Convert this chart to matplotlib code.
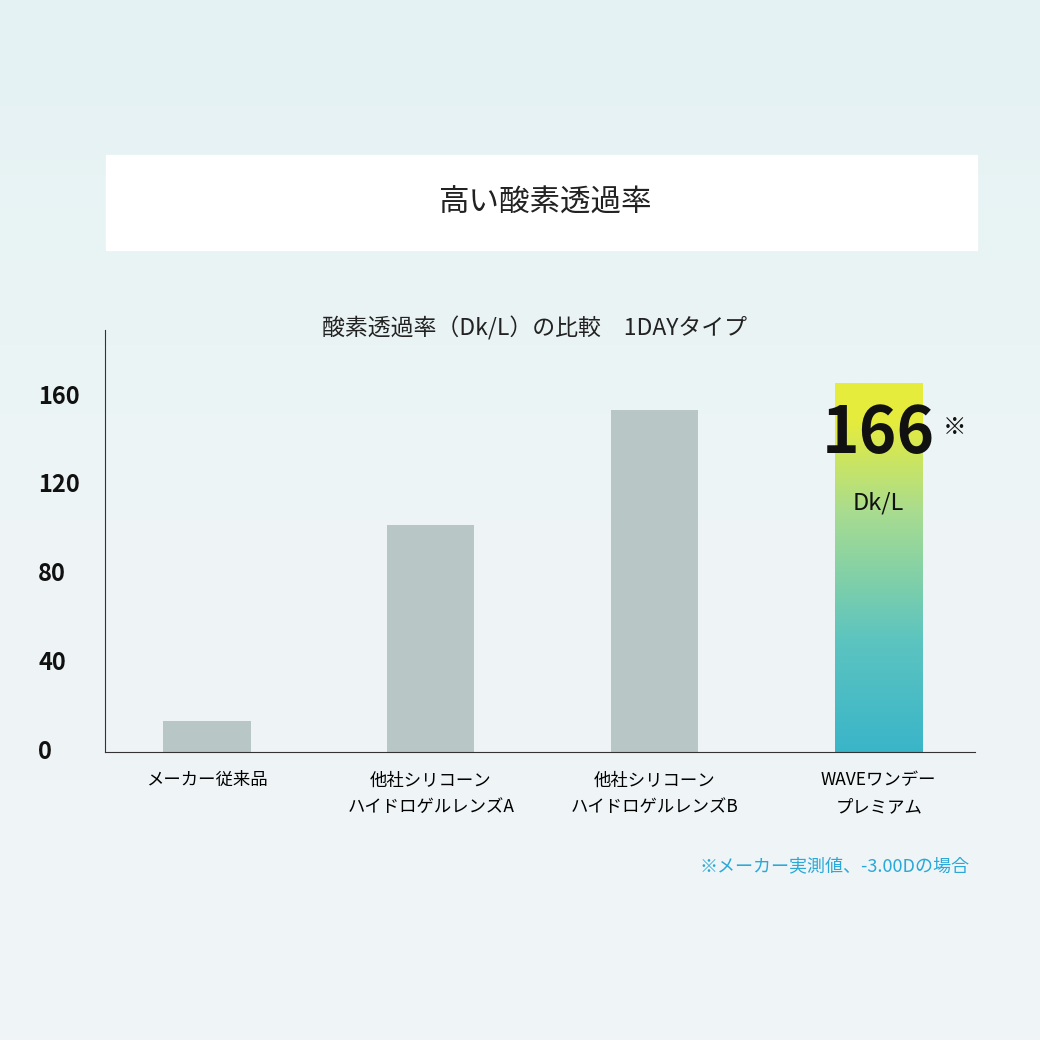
import matplotlib
matplotlib.use("Agg")
import matplotlib.pyplot as plt
import numpy as np
from matplotlib.colors import LinearSegmentedColormap
from matplotlib.patches import Rectangle
import matplotlib.transforms as mtransforms

plt.rcParams['font.family'] = ['Noto Sans CJK JP', 'DejaVu Sans']

categories = ["メーカー従来品", "他社シリコーン\nハイドロゲルレンズA", "他社シリコーン\nハイドロゲルレンズB", "WAVEワンデー\nプレミアム"]
values = [14, 102, 154, 166]
yticks = [0, 40, 80, 120, 160]

fig = plt.figure(figsize=(10.4, 10.4), dpi=100)
bg = fig.add_axes([0, 0, 1, 1], zorder=-10)
grad = np.linspace(0, 1, 256).reshape(-1, 1)
bgcmap = LinearSegmentedColormap.from_list("bg", ["#e4f2f3", "#eef5f6", "#f0f4f6"])
bg.imshow(grad, aspect='auto', cmap=bgcmap, extent=[0, 1, 0, 1], origin='upper')
bg.set_xlim(0, 1); bg.set_ylim(0, 1); bg.axis('off')
bg.add_patch(Rectangle((106/1040, 1-250/1040), 871/1040, 95/1040, color='white'))
bg.text(545/1040, 1-203/1040, "高い酸素透過率", ha='center', va='center', fontsize=22, color='#222')
bg.text(535/1040, 1-328/1040, "酸素透過率（Dk/L）の比較　1DAYタイプ", ha='center', va='center', fontsize=16.5, color='#222')
bg.text(970/1040, 1-866/1040, "※メーカー実測値、-3.00Dの場合", ha='right', va='center', fontsize=13, color='#2aa8d8')

ax = fig.add_axes([105/1040, 1-752/1040, 870/1040, 422/1040])
ax.patch.set_alpha(0)
x = np.arange(len(values))
w = 0.39
ax.bar(x[:3], values[:3], width=w, color='#b8c6c5')
cmap = LinearSegmentedColormap.from_list("g", [(0, "#3ab5c9"), (0.3, "#5cc4c0"), (0.65, "#a8dc90"), (0.9, "#e6ec3c"), (1, "#e6ec3c")])
ax.imshow(np.linspace(0, 1, 256).reshape(-1, 1), cmap=cmap, origin='lower', aspect='auto',
          extent=[x[3]-w/2, x[3]+w/2, 0, values[3]], zorder=2)
ax.text(x[3], values[3]-23, str(values[3]), ha='center', va='center', fontsize=46, fontweight='bold', color='#111', zorder=3)
ax.text(x[3]+0.34, values[3]-20, "※", ha='center', va='center', fontsize=17, color='#111', zorder=3)
ax.text(x[3], values[3]-54, "Dk/L", ha='center', va='center', fontsize=17, color='#111', zorder=3)
ax.set_xlim(-0.455, 3.43)
ax.set_ylim(0, 190)
ax.set_yticks(yticks)
ax.set_yticklabels([])
trans = mtransforms.blended_transform_factory(ax.transAxes, ax.transData)
for t in yticks:
    ax.text(-0.077, t, str(t), transform=trans, ha='left', va='center', fontsize=17, fontweight='bold', color='#111')
ax.set_xticks(x)
ax.set_xticklabels(categories, fontsize=12.5, linespacing=1.6)
ax.tick_params(axis='both', length=0, pad=14)
for s in ['top', 'right']:
    ax.spines[s].set_visible(False)
ax.spines['left'].set_color('#333'); ax.spines['bottom'].set_color('#333')
fig.savefig("out.png", dpi=100)
